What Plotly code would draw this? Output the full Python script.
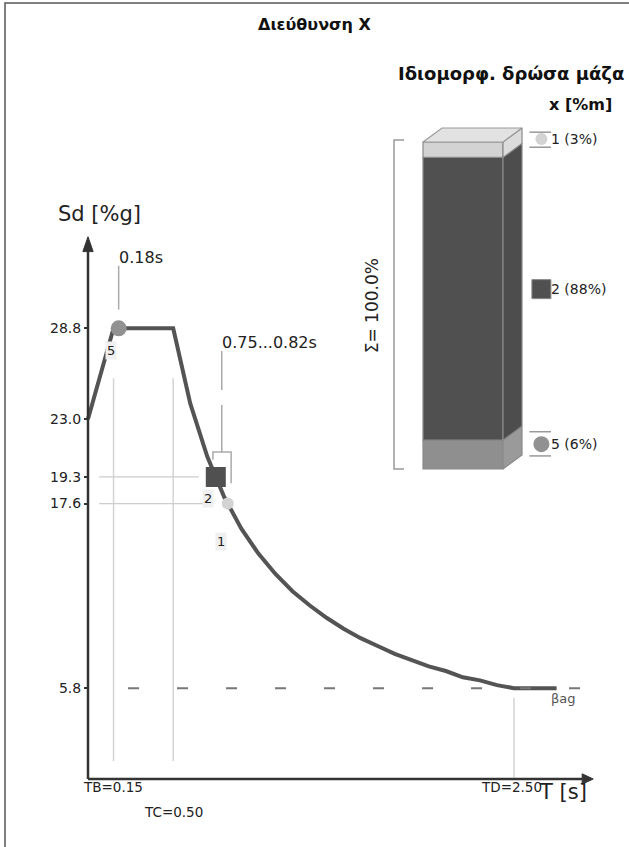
import plotly.graph_objects as go

# ---------------- data ----------------
spec_T = [0.0, 0.15, 0.5, 0.6, 0.7, 0.8, 0.9, 1.0, 1.1, 1.2, 1.3, 1.4, 1.5, 1.6, 1.7,
          1.8, 1.9, 2.0, 2.1, 2.2, 2.3, 2.4, 2.5, 2.75]
spec_Sd = [23.0, 28.8, 28.8, 24.0, 20.6, 18.0, 16.0, 14.4, 13.1, 12.0, 11.1, 10.3, 9.6, 9.0, 8.5,
           8.0, 7.6, 7.2, 6.9, 6.5, 6.3, 6.0, 5.8, 5.8]
ytick_vals = [5.8, 17.6, 19.3, 23.0, 28.8]
TB, TC, TD = 0.15, 0.50, 2.50
beta_ag = 5.8

mode_ids = ["1", "2", "5"]
mode_T = [0.82, 0.75, 0.18]
mode_Sd = [17.6, 19.3, 28.8]
mode_pct = [3, 88, 6]
mode_colors = ["#d3d3d3", "#505050", "#919191"]
mode_symbols = ["circle", "square", "circle"]
mode_sizes = [12, 20, 16]

# stacked mass bar (bottom -> top), segment heights as displayed in the picture
bar_modes = ["5", "2", "1"]
bar_heights = [8.8, 86.5, 4.7]
bar_front = ["#8f8f8f", "#505050", "#d3d3d3"]
bar_side = ["#9a9a9a", "#4d4d4d", "#dcdcdc"]
total_pct = 100.0

FONT = "DejaVu Sans"
W, H = 629, 847

# ---------------- geometry (pixels) ----------------
XPX0, XPX_PER = 88.0, 170.4     # T=0 position, px per second
YPX0, YPX_PER = 779.0, 15.65    # Sd=0 position, px per %g
x_rng = [-0.35, 3.15]
y_rng = [-3.5, 37.5]
dom_x = [(XPX0 + x_rng[0] * XPX_PER) / W, min(1.0, (XPX0 + x_rng[1] * XPX_PER) / W)]
dom_y = [(H - (YPX0 - y_rng[0] * YPX_PER)) / H, (H - (YPX0 - y_rng[1] * YPX_PER)) / H]

# bar subplot: x2 unit = front-face width (80px from px 423); y2 unit = % (3.27 px each, 0 at px 469)
BX0, BX_PER = 423.0, 80.0
BY0, BY_PER = 469.0, 3.27
b_px_x = [340.0, 629.0]
b_px_y = [480.0, 118.0]
x2_rng = [(p - BX0) / BX_PER for p in b_px_x]
y2_rng = [(BY0 - p) / BY_PER for p in b_px_y]
dom_x2 = [b_px_x[0] / W, b_px_x[1] / W]
dom_y2 = [(H - b_px_y[0]) / H, (H - b_px_y[1]) / H]

fig = go.Figure()

# spectrum curve
fig.add_trace(go.Scatter(x=spec_T, y=spec_Sd, mode="lines",
                         line=dict(color="#545454", width=4), hoverinfo="skip",
                         xaxis="x", yaxis="y"))

shapes = []
anns = []
grid_c = "#d4d4d4"

# guide lines
for tv in (TB, TC):
    shapes.append(dict(type="line", xref="x", yref="y", x0=tv, x1=tv, y0=1.15, y1=25.6,
                       line=dict(color=grid_c, width=1.5)))
shapes.append(dict(type="line", xref="x", yref="y", x0=TD, x1=TD, y0=0.1, y1=5.2,
                   line=dict(color=grid_c, width=1.5)))
shapes.append(dict(type="line", xref="x", yref="y", x0=0.065, x1=0.65, y0=mode_Sd[1], y1=mode_Sd[1],
                   line=dict(color="#cccccc", width=1.2)))
shapes.append(dict(type="line", xref="x", yref="y", x0=0.065, x1=0.675, y0=mode_Sd[0], y1=mode_Sd[0],
                   line=dict(color="#cccccc", width=1.2)))
# beta*ag dashed line
shapes.append(dict(type="line", xref="x", yref="y", x0=0.235, x1=2.9, y0=beta_ag, y1=beta_ag,
                   line=dict(color="#777777", width=2, dash="11px,38px")))

# leader for 0.18s
shapes.append(dict(type="line", xref="x", yref="y", x0=mode_T[2], x1=mode_T[2], y0=30.0, y1=32.8,
                   line=dict(color="#aaaaaa", width=1.5)))
# leader + bracket for 0.75...0.82s
tm = (mode_T[0] + mode_T[1]) / 2
shapes.append(dict(type="line", xref="x", yref="y", x0=tm, x1=tm, y0=24.86, y1=27.35,
                   line=dict(color="#aaaaaa", width=1.5)))
shapes.append(dict(type="line", xref="x", yref="y", x0=tm, x1=tm, y0=20.9, y1=23.9,
                   line=dict(color="#aaaaaa", width=1.5)))
shapes.append(dict(type="path", xref="x", yref="y",
                   path=f"M {mode_T[1]-0.017},20.4 L {mode_T[1]-0.017},20.9 L {mode_T[0]+0.02},20.9 L {mode_T[0]+0.02},18.9",
                   line=dict(color="#aaaaaa", width=1.5)))

# axes with arrows
ax_c = "#333333"
shapes.append(dict(type="line", xref="x", yref="y", x0=0, x1=0, y0=0, y1=33.8,
                   line=dict(color=ax_c, width=2.5)))
shapes.append(dict(type="path", xref="x", yref="y", path="M -0.03,33.7 L 0.03,33.7 L 0,34.65 Z",
                   fillcolor=ax_c, line=dict(color=ax_c, width=1)))
shapes.append(dict(type="line", xref="x", yref="y", x0=0, x1=2.9, y0=0, y1=0,
                   line=dict(color=ax_c, width=2.5)))
shapes.append(dict(type="path", xref="x", yref="y", path="M 2.9,0.33 L 2.9,-0.33 L 2.965,0 Z",
                   fillcolor=ax_c, line=dict(color=ax_c, width=1)))

# mode markers on spectrum
for i in range(len(mode_ids)):
    fig.add_trace(go.Scatter(x=[mode_T[i]], y=[mode_Sd[i]], mode="markers",
                             marker=dict(symbol=mode_symbols[i], size=mode_sizes[i], color=mode_colors[i],
                                         line=dict(width=0)),
                             hoverinfo="skip", xaxis="x", yaxis="y"))
label_shift = {"1": (-7, -38), "2": (-8, -22), "5": (-8, -22)}
for i, m in enumerate(mode_ids):
    dx, dy = label_shift[m]
    anns.append(dict(x=mode_T[i], y=mode_Sd[i], xref="x", yref="y", text=m, showarrow=False,
                     xshift=dx, yshift=dy, bgcolor="#f0f0f0", borderpad=1,
                     font=dict(family=FONT, size=13, color="#222222")))

anns.append(dict(x=mode_T[2], y=33.35, xref="x", yref="y", text=f"{mode_T[2]:.2f}s", showarrow=False,
                 xanchor="left", yanchor="middle", xshift=-2,
                 font=dict(family=FONT, size=16, color="#222222")))
anns.append(dict(x=tm, y=27.86, xref="x", yref="y", text=f"{mode_T[1]:.2f}...{mode_T[0]:.2f}s",
                 showarrow=False, xanchor="left", yanchor="middle", xshift=-2,
                 font=dict(family=FONT, size=16, color="#222222")))

# period labels
lab_font = dict(family=FONT, size=13.5, color="#222222")
anns.append(dict(x=TB, y=-0.5, xref="x", yref="y", text=f"TB={TB:.2f}", showarrow=False,
                 yanchor="middle", xshift=-1, font=lab_font))
anns.append(dict(x=TC, y=-2.1, xref="x", yref="y", text=f"TC={TC:.2f}", showarrow=False,
                 yanchor="middle", font=lab_font))
anns.append(dict(x=TD, y=-0.5, xref="x", yref="y", text=f"TD={TD:.2f}", showarrow=False,
                 yanchor="middle", xshift=-3, font=lab_font))
anns.append(dict(x=2.79, y=-0.85, xref="x", yref="y", text="T [s]", showarrow=False,
                 yanchor="middle", font=dict(family=FONT, size=21, color="#222222")))
anns.append(dict(x=2.79, y=5.15, xref="x", yref="y", text="βag", showarrow=False,
                 yanchor="middle", font=dict(family=FONT, size=13, color="#555555")))
anns.append(dict(x=0.065, y=36.1, xref="x", yref="y", text="Sd [%g]", showarrow=False,
                 yanchor="middle", font=dict(family=FONT, size=21, color="#222222")))

# titles
anns.append(dict(x=314 / W, y=(H - 25) / H, xref="paper", yref="paper", text="<b>Διεύθυνση X</b>",
                 showarrow=False, yanchor="middle", font=dict(family=FONT, size=16, color="#111111")))
anns.append(dict(x=626 / W, y=(H - 74) / H, xref="paper", yref="paper",
                 text="<b>Ιδιομορφ. δρώσα μάζα</b>", showarrow=False, xanchor="right", yanchor="middle",
                 font=dict(family=FONT, size=18, color="#111111")))
anns.append(dict(x=614 / W, y=(H - 104) / H, xref="paper", yref="paper", text="<b>x [%m]</b>",
                 showarrow=False, xanchor="right", yanchor="middle",
                 font=dict(family=FONT, size=16, color="#111111")))

# ---------------- stacked mass bar ----------------
dxs, dys = 19.0 / BX_PER, 14.0 / BY_PER
bases = []
cum = 0.0
for h in bar_heights:
    bases.append(cum)
    cum += h
for i, h in enumerate(bar_heights):
    fig.add_trace(go.Bar(x=[0.5], y=[h], base=[bases[i]], width=1.0,
                         marker=dict(color=bar_front[i], line=dict(color="#8a8a8a", width=1.2)),
                         hoverinfo="skip", xaxis="x2", yaxis="y2"))
    b0, b1 = bases[i], bases[i] + h
    # side face
    fig.add_trace(go.Scatter(x=[1, 1 + dxs, 1 + dxs, 1, 1], y=[b0, b0 + dys, b1 + dys, b1, b0],
                             fill="toself", fillcolor=bar_side[i], mode="lines",
                             line=dict(color="#8a8a8a", width=1.2), hoverinfo="skip",
                             xaxis="x2", yaxis="y2"))
top = cum
fig.add_trace(go.Scatter(x=[0, dxs, 1 + dxs, 1, 0], y=[top, top + dys, top + dys, top, top],
                         fill="toself", fillcolor="#e2e2e2", mode="lines",
                         line=dict(color="#9a9a9a", width=1.2), hoverinfo="skip",
                         xaxis="x2", yaxis="y2"))

# Σ bracket
bx, bt = -0.3625, -0.2375
shapes.append(dict(type="path", xref="x2", yref="y2",
                   path=f"M {bt},0 L {bx},0 L {bx},{top + 0.6} L {bt},{top + 0.6}",
                   line=dict(color="#999999", width=1.5)))
anns.append(dict(x=-0.64, y=total_pct / 2, xref="x2", yref="y2", text=f"Σ= {total_pct:.1f}%",
                 textangle=-90, showarrow=False, font=dict(family=FONT, size=17, color="#222222")))

# legend markers for the bar
leg_y = {"1": 100.9, "2": 55.0, "5": 7.6}
leg_x = 1.48
for i, m in enumerate(mode_ids):
    fig.add_trace(go.Scatter(x=[leg_x], y=[leg_y[m]], mode="markers",
                             marker=dict(symbol=mode_symbols[i], size=mode_sizes[i] if m != "2" else 19,
                                         color=mode_colors[i],
                                         line=dict(color="#888888", width=1 if m == "2" else 0)),
                             hoverinfo="skip", xaxis="x2", yaxis="y2"))
    anns.append(dict(x=leg_x, y=leg_y[m], xref="x2", yref="y2", text=f"{m} ({mode_pct[i]}%)",
                     showarrow=False, xanchor="left", yanchor="middle", xshift=8,
                     font=dict(family=FONT, size=14, color="#222222")))
for (ya, yb) in ((103.0, 98.4), (11.4, 4.0)):
    for yy in (ya, yb):
        shapes.append(dict(type="line", xref="x2", yref="y2", x0=1.33, x1=1.6, y0=yy, y1=yy,
                           line=dict(color="#999999", width=1.5)))

# frame
shapes.append(dict(type="path", xref="paper", yref="paper",
                   path=f"M {5/W},0 L {5/W},{(H-3)/H} L 1,{(H-3)/H}",
                   line=dict(color="#555555", width=1.5)))

fig.update_layout(
    width=W, height=H, margin=dict(l=0, r=0, t=0, b=0),
    paper_bgcolor="white", plot_bgcolor="rgba(0,0,0,0)",
    showlegend=False, barmode="overlay",
    shapes=shapes, annotations=anns,
    xaxis=dict(domain=dom_x, range=x_rng, visible=False, fixedrange=True),
    yaxis=dict(domain=dom_y, range=y_rng, anchor="free", position=XPX0 / W,
               tickvals=ytick_vals, ticktext=[f"{v:.1f}" for v in ytick_vals],
               ticks="outside", ticklen=4, tickwidth=1.5, tickcolor="#333333",
               showgrid=False, zeroline=False, showline=False,
               tickfont=dict(family=FONT, size=14, color="#222222")),
    xaxis2=dict(domain=dom_x2, range=x2_rng, visible=False, anchor="y2"),
    yaxis2=dict(domain=dom_y2, range=y2_rng, visible=False, anchor="x2"),
)

fig.write_html("out.html", config={"displayModeBar": False},
               post_script="document.body.style.margin='0px';")
